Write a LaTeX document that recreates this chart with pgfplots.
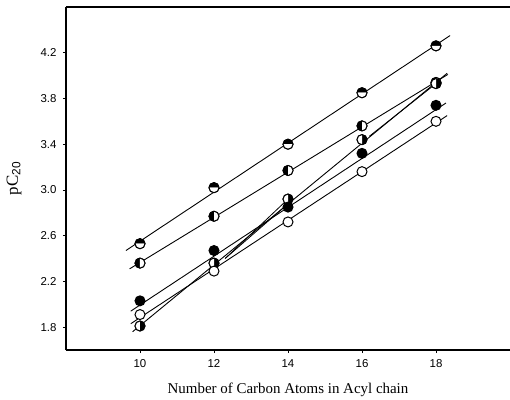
\documentclass[border=0pt]{standalone}
\usepackage{fontspec}
\setmainfont{Liberation Serif}
\setsansfont{Liberation Sans}
\usepackage{pgfplots}
\pgfplotsset{compat=1.18}
\usetikzlibrary{plotmarks}

\begin{document}
\begin{tikzpicture}
\begin{axis}[
    name=main,
    scale only axis,
    width=444bp, height=343bp,
    xmin=8, xmax=20,
    ymin=1.6, ymax=4.6,
    axis x line=box, axis y line=left,
    x axis line style={-, line width=1.2pt},
    y axis line style={-, line width=1.2pt},
    xtick={10,12,14,16,18},
    ytick={1.8,2.2,2.6,3.0,3.4,3.8,4.2},
    xtick pos=lower, ytick pos=left,
    tick align=outside,
    major tick length=3bp,
    tick style={black, line width=0.8pt},
    y tick label style={/pgf/number format/fixed, /pgf/number format/fixed zerofill, /pgf/number format/precision=1},
    /pgf/number format/assume math mode=true,
    tick label style={font=\sffamily\fontsize{11.5}{13}\selectfont},
    xticklabel style={yshift=-3bp},
    yticklabel style={xshift=-3bp},
    xlabel={Number of Carbon Atoms in Acyl chain},
    xlabel style={font=\fontsize{15}{18}\selectfont, at={(axis description cs:0.5,0)}, anchor=center, yshift=-40bp},
    ylabel={pC\textsubscript{\sffamily 20}},
    ylabel style={font=\fontsize{17}{19}\selectfont, at={(axis description cs:0,0.5)}, anchor=center, yshift=52bp},
    clip=false,
]
% fitted lines
\addplot[black, line width=0.9pt] coordinates {(9.62,2.47) (18.38,4.35)};
\addplot[black, line width=0.9pt] coordinates {(9.72,2.31) (18.32,4.01)};
\addplot[black, line width=0.9pt] coordinates {(9.75,1.94) (18.27,3.76)};
\addplot[black, line width=0.9pt] coordinates {(9.75,1.83) (18.30,3.65)};
\addplot[black, line width=0.9pt] coordinates {(9.80,1.76) (18.30,4.02)};
% connecting segments
\addplot[black, line width=0.8pt] coordinates {(12.3,2.40) (14.0,2.92)};
\addplot[black, line width=0.8pt] coordinates {(12.3,2.40) (13.9,2.85)};
\addplot[black, line width=0.8pt] coordinates {(16.2,3.47) (18.0,3.93)};

% white backgrounds for markers
\addplot[only marks, mark=*, mark size=5bp, mark options={draw=black, fill=white, line width=1pt}] coordinates {
    (10,2.53) (12,3.02) (14,3.40) (16,3.85) (18,4.26)
    (10,2.36) (12,2.77) (14,3.17) (16,3.56) (18,3.94)
    (10,1.81) (12,2.36) (14,2.92) (16,3.44) (18,3.93)
};
% top half filled
\addplot[only marks, mark=halfcircle*, mark size=5bp, mark options={draw=black, fill=black, line width=1pt}] coordinates {
    (10,2.53) (12,3.02) (14,3.40) (16,3.85) (18,4.26)
};
% left half filled
\addplot[only marks, mark=halfcircle*, mark size=5bp, mark options={draw=black, fill=black, line width=1pt, rotate=90}] coordinates {
    (10,2.36) (12,2.77) (14,3.17) (16,3.56) (18,3.94)
};
% right half filled
\addplot[only marks, mark=halfcircle*, mark size=5bp, mark options={draw=black, fill=black, line width=1pt, rotate=-90}] coordinates {
    (10,1.81) (12,2.36) (14,2.92) (16,3.44) (18,3.93)
};
% filled
\addplot[only marks, mark=*, mark size=5bp, mark options={draw=black, fill=black, line width=1pt}] coordinates {
    (10,2.03) (12,2.47) (14,2.85) (16,3.32) (18,3.74)
};
% open
\addplot[only marks, mark=*, mark size=5bp, mark options={draw=black, fill=white, line width=1pt}] coordinates {
    (10,1.91) (12,2.29) (14,2.72) (16,3.16) (18,3.60)
};
\end{axis}
\pgfresetboundingbox
\path[use as bounding box] ([shift={(-66bp,7bp)}]main.north west) rectangle ([shift={(0bp,-50bp)}]main.south east);
\end{tikzpicture}
\end{document}
